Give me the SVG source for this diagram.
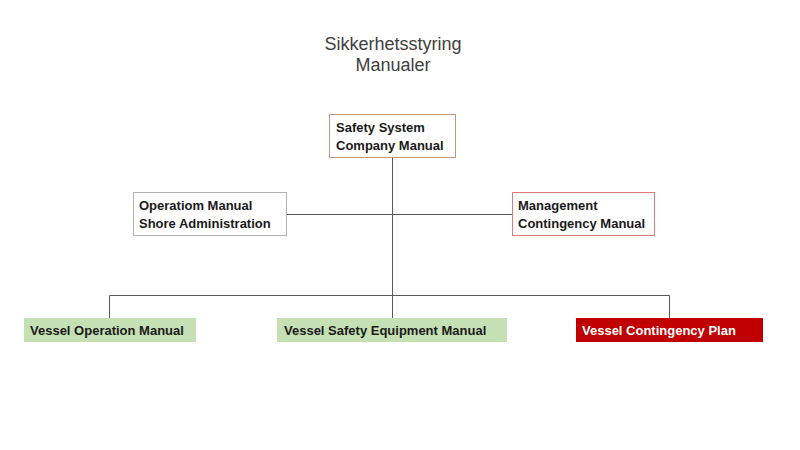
<svg xmlns="http://www.w3.org/2000/svg" width="800" height="450" viewBox="0 0 800 450">
<style>
.t{font-family:"Liberation Sans",Arial,sans-serif;font-weight:bold;font-size:13px;fill:#1a1a1a}
.w{fill:#ffffff}
.title{font-family:"Liberation Sans",Arial,sans-serif;font-size:18px;fill:#404040;text-anchor:middle}
.c{stroke:#595959;stroke-width:1;fill:none}
</style>
<rect width="800" height="450" fill="#ffffff"/>
<g id="title">
<text class="title" x="393" y="50">Sikkerhetsstyring</text>
<text class="title" x="393" y="71">Manualer</text>
</g>
<g id="connectors">
<path class="c" d="M392.5 157 V318"/>
<path class="c" d="M287 214.5 H512"/>
<path class="c" d="M109.5 318 V295.5 H669.5 V318"/>
</g>
<g id="safety-system">
<rect x="329.5" y="114.5" width="126" height="43" fill="#ffffff" stroke="#c4977a"/>
<text class="t" x="336" y="132">Safety System</text>
<text class="t" x="336" y="150">Company Manual</text>
</g>
<g id="operation-shore">
<rect x="133.5" y="192.5" width="153" height="43" fill="#ffffff" stroke="#b3b3b3"/>
<text class="t" x="139" y="210">Operatiom Manual</text>
<text class="t" x="139" y="228">Shore Administration</text>
</g>
<g id="management-contingency">
<rect x="512.5" y="192.5" width="142" height="43" fill="#ffffff" stroke="#e07a7a"/>
<text class="t" x="518" y="210">Management</text>
<text class="t" x="518" y="228">Contingency Manual</text>
</g>
<g id="vessel-operation">
<rect x="24" y="318" width="172" height="24" fill="#c5e0b4"/>
<text class="t" x="30" y="335">Vessel Operation Manual</text>
</g>
<g id="vessel-safety">
<rect x="277" y="318" width="230" height="24" fill="#c5e0b4"/>
<text class="t" x="284" y="335">Vessel Safety Equipment Manual</text>
</g>
<g id="vessel-contingency">
<rect x="576" y="318" width="187" height="24" fill="#c00000"/>
<text class="t w" x="582" y="335">Vessel Contingency Plan</text>
</g>
</svg>
